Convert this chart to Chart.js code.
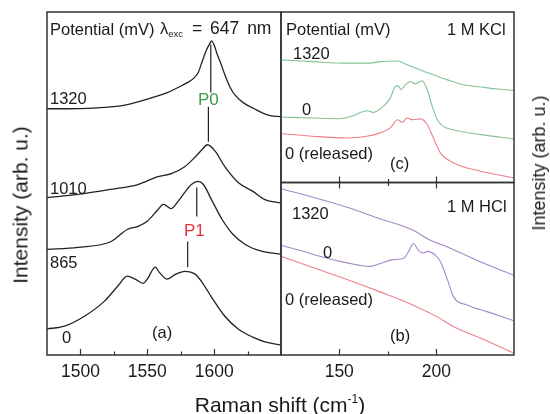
<!DOCTYPE html>
<html>
<head>
<meta charset="utf-8">
<script src="https://cdn.jsdelivr.net/npm/chart.js@4.4.1/dist/chart.umd.min.js"></script>
<style>
body { margin: 0; background: #fff; }
#wrap { position: relative; width: 550px; height: 414px; overflow: hidden;
        font-family: "Liberation Sans", Arial, sans-serif; color: #1a1a1a; }
canvas { position: absolute; left: 0; top: 0; }
.t { position: absolute; white-space: nowrap; line-height: 1; font-size: 16.5px; transform: translateY(-50%); }
.rot { position: absolute; white-space: nowrap; line-height: 1; transform: translate(-50%, -50%) rotate(-90deg); }
sub { font-size: 9.5px; vertical-align: -3px; }
sup { font-size: 12px; vertical-align: 9px; }
</style>
</head>
<body>
<div id="wrap">
  <canvas id="chartA" width="550" height="414"></canvas>
  <canvas id="chartC" width="550" height="414"></canvas>
  <canvas id="chartB" width="550" height="414"></canvas>

  <div class="rot" style="left:20px;top:205px;font-size:21px;">Intensity (arb. u.)</div>
  <div class="rot" style="left:539px;top:163px;font-size:18px;">Intensity (arb. u.)</div>
  <div class="t" style="left:280px;top:404px;font-size:21px;transform:translate(-50%,-50%);">Raman shift (cm<sup>-1</sup>)</div>

  <!-- panel (a) -->
  <div class="t" style="left:50px;top:29px;">Potential (mV)</div>
  <div class="t" style="left:160px;top:29px;">&lambda;<sub>exc</sub></div>
  <div class="t" style="left:192px;top:29px;font-size:17.5px;word-spacing:3px;">= 647 nm</div>
  <div class="t" style="left:50px;top:98px;">1320</div>
  <div class="t" style="left:50px;top:188px;">1010</div>
  <div class="t" style="left:50px;top:262px;">865</div>
  <div class="t" style="left:62px;top:337px;">0</div>
  <div class="t" style="left:152px;top:332px;">(a)</div>
  <div class="t" style="left:198px;top:99px;font-size:17px;color:#3c9c46;">P0</div>
  <div class="t" style="left:184px;top:230px;font-size:17px;color:#e3353f;">P1</div>

  <!-- panel (c) -->
  <div class="t" style="left:286px;top:29px;">Potential (mV)</div>
  <div class="t" style="left:447px;top:29px;">1 M KCl</div>
  <div class="t" style="left:293px;top:53px;">1320</div>
  <div class="t" style="left:302px;top:109px;">0</div>
  <div class="t" style="left:285px;top:153px;">0 (released)</div>
  <div class="t" style="left:390px;top:163px;">(c)</div>

  <!-- panel (b) -->
  <div class="t" style="left:447px;top:206px;">1 M HCl</div>
  <div class="t" style="left:292px;top:213px;">1320</div>
  <div class="t" style="left:323px;top:252px;">0</div>
  <div class="t" style="left:285px;top:299px;">0 (released)</div>
  <div class="t" style="left:390px;top:335px;">(b)</div>
</div>

<script>
// Panel (a): graphite region, 647 nm excitation
const a1320X = [1475, 1490, 1510, 1525, 1535, 1545, 1556, 1565, 1573, 1580, 1585, 1588, 1591, 1594, 1597, 1598, 1600, 1602, 1605, 1608, 1612, 1616, 1622, 1630, 1636, 1642, 1650];
const a1320Y = [71.8, 71.8, 72, 72.4, 73, 74, 75.3, 76.5, 78, 79.4, 80.8, 82.3, 85.5, 88.7, 91, 91.6, 90.4, 88, 85, 81.7, 78, 75.6, 73.5, 71.8, 70.6, 69.8, 69.5];
const a1010X = [1475, 1498, 1523, 1543, 1558, 1568, 1578, 1586, 1591, 1595, 1601, 1608, 1618, 1629, 1638, 1650];
const a1010Y = [45.9, 46.8, 48.3, 49.7, 52, 52.9, 54.9, 57.8, 59.9, 61.3, 59.3, 54.9, 50.3, 47.7, 45.3, 44.3];
const a865X = [1475, 1498, 1523, 1535, 1543, 1550, 1558, 1562, 1568, 1573, 1578, 1583, 1588, 1592, 1598, 1606, 1614, 1623, 1636, 1650];
const a865Y = [30.8, 31.4, 33.1, 36.6, 37.5, 39, 42.4, 43.9, 42.7, 44.8, 47.4, 49.7, 50.6, 49.7, 45.3, 39.5, 35.2, 32.3, 30.2, 29.4];
const a0X = [1475, 1488, 1503, 1518, 1528, 1535, 1541, 1547, 1550, 1556, 1559, 1565, 1571, 1578, 1586, 1591, 1598, 1608, 1618, 1629, 1638, 1650];
const a0Y = [7.6, 8.4, 11.3, 15.7, 20.1, 23, 22.1, 20.9, 22.1, 25.6, 24.1, 22.1, 23.5, 24.4, 23.5, 21.2, 16.9, 11.3, 7.6, 5.2, 3.8, 2.9];

// P0 / P1 marker segments
const p0X = [1597.5, 1595.7];
const p0Top = [90.5, 72.4];
const p0Bottom = [76.5, 62.2];
const p1X = [1587, 1580.2];
const p1Top = [48.8, 33.1];
const p1Bottom = [40.4, 25.6];

// Panel (c): 1 M KCl
const c1320X = [120, 136.4, 154, 165.9, 171, 180, 185, 191.8, 198.5, 205.8, 214, 223, 231.7, 240];
const c1320Y = [71.9, 70.9, 70, 70, 70.9, 71.3, 69, 66, 63.2, 60.2, 57.3, 56, 54.8, 54];
const c0X = [120, 136.4, 150.4, 157.1, 164.3, 167.5, 172.6, 176.3, 178.9, 180.4, 181.8, 184, 186.6, 189.2, 192.7, 195.3, 197.9, 200.5, 203.7, 211, 222.9, 240];
const c0Y = [38.4, 37.8, 37.4, 39.2, 42.1, 41.1, 44.6, 49.5, 56.3, 56.7, 54.4, 57.3, 59.2, 57.9, 59.6, 54.4, 44.6, 36.8, 32.9, 30.4, 28.1, 25.6];
const cRelX = [120, 136.4, 154, 164.3, 171, 176.3, 180, 182.5, 185, 187.7, 191.8, 195.4, 198.5, 202.1, 208.9, 222.9, 240];
const cRelY = [28.7, 27.1, 26.1, 27.1, 29.1, 32, 36.8, 35.3, 37.8, 36.8, 37.3, 33.9, 26.1, 17.4, 11.5, 6.6, 2.7];

// Panel (b): 1 M HCl
const b1320X = [120, 136.4, 154, 171, 188.1, 196.9, 205.8, 222.9, 240];
const b1320Y = [96.4, 91.5, 85.7, 79, 72.3, 66.5, 62.6, 53.9, 46.2];
const b0X = [120, 129.6, 140, 154, 165.9, 171, 177.8, 183, 185.6, 188.2, 190.8, 193.4, 195.4, 199.6, 202.2, 205.8, 208.9, 216.2, 226.5, 240];
const b0Y = [63.6, 60.7, 57.2, 53.4, 51.4, 53, 55.3, 55.9, 59.7, 64.6, 60.7, 59.1, 60.1, 57.8, 53.9, 43.4, 33.7, 28.9, 25, 19.8];
const bRelX = [120, 136.4, 154, 171, 188.1, 200.5, 208.9, 222.9, 240];
const bRelY = [57.2, 50.7, 43.8, 36.6, 28.9, 22.1, 16.4, 9.7, 1];

const GREEN = '#86c296';
const RED = '#ef8088';
const PURPLE = '#a488c6';

Chart.defaults.font.family = '"Liberation Sans", Arial, sans-serif';
Chart.defaults.color = '#1a1a1a';

function curve(xs, ys, color, width) {
    return {
        data: xs.map((x, i) => ({ x: x, y: ys[i] })),
        borderColor: color,
        borderWidth: width,
        pointRadius: 0,
        fill: false,
        cubicInterpolationMode: 'monotone'
    };
}

function marker(x, y0, y1) {
    return { data: [{ x: x, y: y0 }, { x: x, y: y1 }], borderColor: '#222', borderWidth: 1.2, pointRadius: 0, fill: false };
}

// box around the plot area plus inward ticks
const framePlugin = {
    id: 'frame',
    afterDraw(chart, args, opts) {
        const { ctx, chartArea: a } = chart;
        const x = chart.scales.x;
        ctx.save();
        ctx.strokeStyle = '#333';
        ctx.lineWidth = 1.5;
        ctx.strokeRect(a.left, a.top, a.right - a.left, a.bottom - a.top);
        ctx.lineWidth = 1.2;
        x.ticks.forEach(t => {
            const px = Math.round(x.getPixelForValue(t.value)) + 0.5;
            const len = t.value % 50 === 0 ? 6 : 3.5;
            ctx.beginPath();
            if (opts.bottom) { ctx.moveTo(px, a.bottom); ctx.lineTo(px, a.bottom - len); }
            if (opts.top) { ctx.moveTo(px, a.top); ctx.lineTo(px, a.top + len); }
            ctx.stroke();
        });
        ctx.restore();
    }
};

function panel(id, datasets, xMin, xMax, padding, axisH, showLabels, frame) {
    return new Chart(document.getElementById(id), {
        type: 'line',
        data: { datasets: datasets },
        plugins: [framePlugin],
        options: {
            responsive: false,
            animation: false,
            events: [],
            layout: { padding: padding },
            plugins: { legend: { display: false }, tooltip: { enabled: false }, frame: frame },
            scales: {
                x: {
                    type: 'linear',
                    min: xMin,
                    max: xMax,
                    afterBuildTicks: s => {
                        s.ticks = s.ticks.filter(t => t.value % 25 === 0 && t.value > xMin && t.value < xMax);
                    },
                    afterFit: s => { s.height = axisH; },
                    ticks: {
                        display: showLabels,
                        stepSize: 25,
                        autoSkip: false,
                        maxRotation: 0,
                        padding: 7,
                        color: '#1a1a1a',
                        font: { size: 17.5 },
                        callback: v => (v % 50 === 0 ? v : '')
                    },
                    grid: { display: false, drawTicks: false },
                    border: { display: false }
                },
                y: { display: false, min: 0, max: 100 }
            }
        }
    });
}

panel('chartA', [
    curve(a1320X, a1320Y, '#222', 1.3),
    curve(a1010X, a1010Y, '#222', 1.3),
    curve(a865X, a865Y, '#222', 1.3),
    curve(a0X, a0Y, '#222', 1.3),
    marker(p0X[0], p0Top[0], p0Bottom[0]),
    marker(p0X[1], p0Top[1], p0Bottom[1]),
    marker(p1X[0], p1Top[0], p1Bottom[0]),
    marker(p1X[1], p1Top[1], p1Bottom[1])
], 1475, 1650, { left: 47, right: 269, top: 12, bottom: 0 }, 59, true, { bottom: true, top: false });

panel('chartC', [
    curve(c1320X, c1320Y, GREEN, 1.1),
    curve(c0X, c0Y, GREEN, 1.1),
    curve(cRelX, cRelY, RED, 1.1)
], 120, 240, { left: 281, right: 36, top: 12, bottom: 231.5 }, 0, false, { bottom: true, top: false });

panel('chartB', [
    curve(b1320X, b1320Y, PURPLE, 1.1),
    curve(b0X, b0Y, PURPLE, 1.1),
    curve(bRelX, bRelY, RED, 1.1)
], 120, 240, { left: 281, right: 36, top: 182.5, bottom: 0 }, 59, true, { bottom: true, top: true });
</script>
</body>
</html>
